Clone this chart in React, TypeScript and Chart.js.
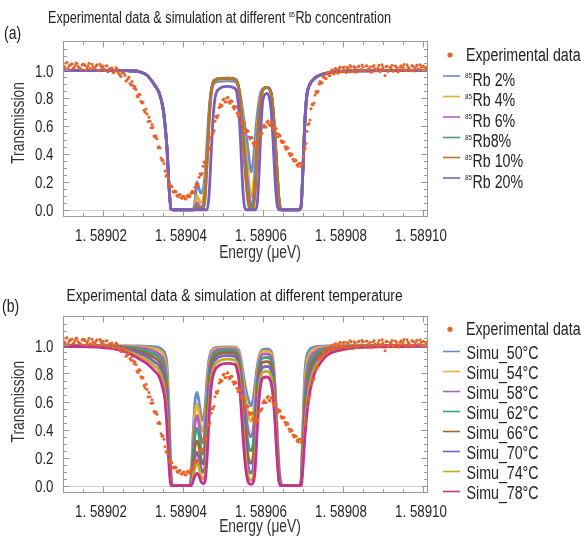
import { useEffect, useRef } from "react";
import { Chart, registerables } from "chart.js";

Chart.register(...registerables);

const FONT = '"Liberation Sans", Arial, Helvetica, sans-serif';

// ---------- Experimental data (energy, transmission) ----------
const EXP_ENERGY = [
  1.58901, 1.58901025, 1.5890105, 1.58901075, 1.589011, 1.58901125, 1.5890115, 1.58901175, 1.589012, 1.58901225,
  1.5890125, 1.58901275, 1.589013, 1.58901325, 1.5890135, 1.58901375, 1.589014, 1.58901425, 1.5890145, 1.58901475,
  1.589015, 1.58901525, 1.5890155, 1.58901575, 1.589016, 1.58901625, 1.5890165, 1.58901675, 1.589017, 1.58901725,
  1.5890175, 1.58901775, 1.589018, 1.58901825, 1.5890185, 1.58901875, 1.589019, 1.58901925, 1.5890195, 1.58901975,
  1.58902, 1.58902025, 1.5890205, 1.58902075, 1.589021, 1.58902125, 1.5890215, 1.58902175, 1.589022, 1.58902225,
  1.5890225, 1.58902275, 1.589023, 1.58902325, 1.5890235, 1.58902375, 1.589024, 1.58902425, 1.5890245, 1.58902475,
  1.589025, 1.58902525, 1.5890255, 1.58902575, 1.589026, 1.58902625, 1.5890265, 1.58902675, 1.589027, 1.58902725,
  1.5890275, 1.58902775, 1.589028, 1.58902825, 1.5890285, 1.58902875, 1.589029, 1.58902925, 1.5890295, 1.58902975,
  1.58903, 1.58903025, 1.5890305, 1.58903075, 1.589031, 1.58903125, 1.5890315, 1.58903175, 1.589032, 1.58903225,
  1.5890325, 1.58903275, 1.589033, 1.58903325, 1.5890335, 1.58903375, 1.589034, 1.58903425, 1.5890345, 1.58903475,
  1.589035, 1.58903525, 1.5890355, 1.58903575, 1.589036, 1.58903625, 1.5890365, 1.58903675, 1.589037, 1.58903725,
  1.5890375, 1.58903775, 1.589038, 1.58903825, 1.5890385, 1.58903875, 1.589039, 1.58903925, 1.5890395, 1.58903975,
  1.58904, 1.58904025, 1.5890405, 1.58904075, 1.589041, 1.58904125, 1.5890415, 1.58904175, 1.589042, 1.58904225,
  1.5890425, 1.58904275, 1.589043, 1.58904325, 1.5890435, 1.58904375, 1.589044, 1.58904425, 1.5890445, 1.58904475,
  1.589045, 1.58904525, 1.5890455, 1.58904575, 1.589046, 1.58904625, 1.5890465, 1.58904675, 1.589047, 1.58904725,
  1.5890475, 1.58904775, 1.589048, 1.58904825, 1.5890485, 1.58904875, 1.589049, 1.58904925, 1.5890495, 1.58904975,
  1.58905, 1.58905025, 1.5890505, 1.58905075, 1.589051, 1.58905125, 1.5890515, 1.58905175, 1.589052, 1.58905225,
  1.5890525, 1.58905275, 1.589053, 1.58905325, 1.5890535, 1.58905375, 1.589054, 1.58905425, 1.5890545, 1.58905475,
  1.589055, 1.58905525, 1.5890555, 1.58905575, 1.589056, 1.58905625, 1.5890565, 1.58905675, 1.589057, 1.58905725,
  1.5890575, 1.58905775, 1.589058, 1.58905825, 1.5890585, 1.58905875, 1.589059, 1.58905925, 1.5890595, 1.58905975,
  1.58906, 1.58906025, 1.5890605, 1.58906075, 1.589061, 1.58906125, 1.5890615, 1.58906175, 1.589062, 1.58906225,
  1.5890625, 1.58906275, 1.589063, 1.58906325, 1.5890635, 1.58906375, 1.589064, 1.58906425, 1.5890645, 1.58906475,
  1.589065, 1.58906525, 1.5890655, 1.58906575, 1.589066, 1.58906625, 1.5890665, 1.58906675, 1.589067, 1.58906725,
  1.5890675, 1.58906775, 1.589068, 1.58906825, 1.5890685, 1.58906875, 1.589069, 1.58906925, 1.5890695, 1.58906975,
  1.58907, 1.58907025, 1.5890705, 1.58907075, 1.589071, 1.58907125, 1.5890715, 1.58907175, 1.589072, 1.58907225,
  1.5890725, 1.58907275, 1.589073, 1.58907325, 1.5890735, 1.58907375, 1.589074, 1.58907425, 1.5890745, 1.58907475,
  1.589075, 1.58907525, 1.5890755, 1.58907575, 1.589076, 1.58907625, 1.5890765, 1.58907675, 1.589077, 1.58907725,
  1.5890775, 1.58907775, 1.589078, 1.58907825, 1.5890785, 1.58907875, 1.589079, 1.58907925, 1.5890795, 1.58907975,
  1.58908, 1.58908025, 1.5890805, 1.58908075, 1.589081, 1.58908125, 1.5890815, 1.58908175, 1.589082, 1.58908225,
  1.5890825, 1.58908275, 1.589083, 1.58908325, 1.5890835, 1.58908375, 1.589084, 1.58908425, 1.5890845, 1.58908475,
  1.589085, 1.58908525, 1.5890855, 1.58908575, 1.589086, 1.58908625, 1.5890865, 1.58908675, 1.589087, 1.58908725,
  1.5890875, 1.58908775, 1.589088, 1.58908825, 1.5890885, 1.58908875, 1.589089, 1.58908925, 1.5890895, 1.58908975,
  1.58909, 1.58909025, 1.5890905, 1.58909075, 1.589091, 1.58909125, 1.5890915, 1.58909175, 1.589092, 1.58909225,
  1.5890925, 1.58909275, 1.589093, 1.58909325, 1.5890935, 1.58909375, 1.589094, 1.58909425, 1.5890945, 1.58909475,
  1.589095, 1.58909525, 1.5890955, 1.58909575, 1.589096, 1.58909625, 1.5890965, 1.58909675, 1.589097, 1.58909725,
  1.5890975, 1.58909775, 1.589098, 1.58909825, 1.5890985, 1.58909875, 1.589099, 1.58909925, 1.5890995, 1.58909975,
  1.5891, 1.58910025, 1.5891005, 1.58910075, 1.589101,
];
const EXP_TRANSMISSION = [
  1.047, 1.027, 1.02, 1.053, 1.055, 1.013, 1.03, 1.038, 1.041, 1.046,
  1.014, 1.018, 1.035, 1.053, 1.048, 1.027, 1.019, 1.013, 1.008, 1.038,
  1.043, 1.044, 1.034, 1.002, 1.018, 1.033, 1.051, 1.013, 1.009, 1.044,
  1.025, 1.017, 1.016, 1.032, 1.04, 1.001, 0.996, 1.043, 1.028, 1.016,
  1.03, 1.007, 0.999, 1.031, 1.033, 0.99, 1.006, 1.012, 1.014, 1.017,
  0.983, 0.986, 1.001, 1.018, 1.01, 0.987, 0.975, 0.965, 0.956, 0.983,
  0.984, 0.979, 0.963, 0.923, 0.931, 0.939, 0.95, 0.905, 0.894, 0.92,
  0.891, 0.871, 0.884, 0.863, 0.816, 0.808, 0.829, 0.824, 0.777, 0.766,
  0.771, 0.714, 0.699, 0.723, 0.686, 0.632, 0.664, 0.635, 0.587, 0.612,
  0.59, 0.529, 0.52, 0.528, 0.509, 0.445, 0.452, 0.442, 0.371, 0.353,
  0.356, 0.331, 0.278, 0.241, 0.25, 0.228, 0.185, 0.168, 0.172, 0.164,
  0.131, 0.125, 0.134, 0.129, 0.102, 0.094, 0.108, 0.109, 0.085, 0.083,
  0.094, 0.097, 0.079, 0.077, 0.097, 0.105, 0.091, 0.096, 0.118, 0.133,
  0.12, 0.129, 0.161, 0.181, 0.171, 0.184, 0.232, 0.258, 0.249, 0.26,
  0.311, 0.342, 0.336, 0.345, 0.404, 0.435, 0.431, 0.447, 0.517, 0.55,
  0.548, 0.566, 0.634, 0.668, 0.66, 0.676, 0.733, 0.755, 0.741, 0.748,
  0.789, 0.794, 0.772, 0.772, 0.803, 0.805, 0.774, 0.763, 0.781, 0.778,
  0.739, 0.723, 0.742, 0.734, 0.694, 0.672, 0.691, 0.683, 0.637, 0.621,
  0.633, 0.621, 0.581, 0.556, 0.571, 0.563, 0.522, 0.508, 0.519, 0.516,
  0.479, 0.463, 0.482, 0.482, 0.458, 0.47, 0.518, 0.541, 0.536, 0.549,
  0.592, 0.607, 0.594, 0.593, 0.628, 0.636, 0.611, 0.604, 0.627, 0.624,
  0.589, 0.574, 0.591, 0.58, 0.546, 0.524, 0.542, 0.531, 0.494, 0.48,
  0.489, 0.486, 0.452, 0.433, 0.449, 0.44, 0.404, 0.387, 0.401, 0.394,
  0.362, 0.347, 0.358, 0.353, 0.323, 0.312, 0.331, 0.331, 0.309, 0.333,
  0.378, 0.428, 0.441, 0.475, 0.562, 0.612, 0.618, 0.644, 0.724, 0.757,
  0.752, 0.765, 0.823, 0.848, 0.839, 0.85, 0.901, 0.919, 0.905, 0.91,
  0.952, 0.963, 0.944, 0.94, 0.978, 0.983, 0.962, 0.96, 0.993, 1.004,
  0.979, 0.974, 1.012, 1.011, 0.988, 0.978, 1.011, 1.023, 0.99, 0.989,
  1.018, 1.023, 0.994, 0.984, 1.021, 1.015, 0.987, 1.034, 1.026, 0.989,
  1.002, 1.027, 1.019, 0.985, 0.991, 1.024, 1.03, 0.999, 1.005, 1.037,
  1.024, 0.996, 0.994, 1.03, 1.032, 1.005, 1.009, 1.023, 0.985, 0.989,
  1.027, 1.034, 1.011, 0.998, 0.998, 1.018, 1.036, 0.99, 1.006, 1.04,
  1.02, 1.002, 0.962, 1.027, 1.029, 0.992, 1.001, 1.021, 1.015, 1.036,
  0.993, 0.997, 1.031, 1.029, 1.012, 0.987, 0.997, 1.022, 1.033, 1.006,
  1.022, 1.042, 1.004, 0.996, 1.04, 1.022, 1.016, 1.002, 0.999, 1.035,
  1.028, 0.994, 1.011, 1.028, 1.037, 1.007, 1.004, 1.04, 1.021, 1.0,
  1.03, 1.026, 0.998, 1.012, 1.024,
];

// ---------- Simulation energy grid ----------
const SIM_ENERGY = [
  1.58901, 1.589022, 1.589026, 1.589029, 1.589031, 1.589033, 1.589034, 1.589035, 1.5890355, 1.589036,
  1.5890365, 1.589037, 1.5890375, 1.58904, 1.589041, 1.5890415, 1.589042, 1.5890425, 1.589043, 1.5890435,
  1.589044, 1.5890445, 1.589045, 1.5890455, 1.589046, 1.5890465, 1.589047, 1.5890475, 1.589048, 1.589049,
  1.589051, 1.589053, 1.5890535, 1.589054, 1.5890545, 1.589055, 1.5890555, 1.589056, 1.5890565, 1.589057,
  1.5890575, 1.589058, 1.5890585, 1.589059, 1.5890595, 1.58906, 1.589061, 1.589062, 1.5890625, 1.589063,
  1.5890635, 1.589064, 1.5890645, 1.589065, 1.589067, 1.589069, 1.5890695, 1.58907, 1.5890705, 1.589071,
  1.5890715, 1.589072, 1.589073, 1.589074, 1.589076, 1.589079, 1.589083, 1.58909, 1.589101,
];

// ---------- (a) 85Rb concentration simulations ----------
const SIM_RB_2 = [
  0.998, 0.998, 0.997, 0.99, 0.964, 0.89, 0.84, 0.73, 0.61, 0.44,
  0.17, 0.005, 0, 0, 0, 0, 0, 0, 0.06, 0.2,
  0.15, 0.12, 0.14, 0.25, 0.47, 0.7, 0.84, 0.895, 0.912, 0.92,
  0.925, 0.92, 0.905, 0.865, 0.79, 0.69, 0.59, 0.49, 0.37, 0.27,
  0.33, 0.5, 0.66, 0.78, 0.845, 0.865, 0.875, 0.84, 0.72, 0.52,
  0.28, 0.07, 0, 0, 0, 0, 0.02, 0.3, 0.65, 0.83,
  0.885, 0.915, 0.945, 0.963, 0.98, 0.992, 0.996, 0.998, 0.998,
];
const SIM_RB_4 = [
  0.998, 0.998, 0.997, 0.99, 0.964, 0.89, 0.84, 0.73, 0.61, 0.44,
  0.17, 0.005, 0, 0, 0, 0, 0, 0, 0.03, 0.1,
  0.07, 0.05, 0.07, 0.18, 0.42, 0.68, 0.84, 0.905, 0.925, 0.933,
  0.937, 0.932, 0.918, 0.87, 0.76, 0.62, 0.48, 0.34, 0.19, 0.09,
  0.14, 0.32, 0.55, 0.73, 0.83, 0.865, 0.876, 0.84, 0.72, 0.52,
  0.28, 0.07, 0, 0, 0, 0, 0.02, 0.3, 0.65, 0.83,
  0.885, 0.915, 0.945, 0.963, 0.98, 0.992, 0.996, 0.998, 0.998,
];
const SIM_RB_6 = [
  0.998, 0.998, 0.997, 0.99, 0.964, 0.89, 0.84, 0.73, 0.61, 0.44,
  0.17, 0.005, 0, 0, 0, 0, 0, 0, 0.02, 0.05,
  0.03, 0.02, 0.03, 0.13, 0.38, 0.66, 0.84, 0.912, 0.93, 0.938,
  0.941, 0.935, 0.92, 0.865, 0.73, 0.57, 0.4, 0.24, 0.1, 0.03,
  0.06, 0.22, 0.48, 0.7, 0.82, 0.865, 0.877, 0.84, 0.72, 0.52,
  0.28, 0.07, 0, 0, 0, 0, 0.02, 0.3, 0.65, 0.83,
  0.885, 0.915, 0.945, 0.963, 0.98, 0.992, 0.996, 0.998, 0.998,
];
const SIM_RB_8 = [
  0.998, 0.998, 0.997, 0.99, 0.964, 0.89, 0.84, 0.73, 0.61, 0.44,
  0.17, 0.005, 0, 0, 0, 0, 0, 0, 0.01, 0.03,
  0.015, 0.005, 0.01, 0.1, 0.35, 0.64, 0.83, 0.912, 0.93, 0.94,
  0.943, 0.936, 0.92, 0.862, 0.72, 0.53, 0.34, 0.17, 0.05, 0.01,
  0.03, 0.16, 0.43, 0.67, 0.8, 0.862, 0.878, 0.84, 0.72, 0.52,
  0.28, 0.07, 0, 0, 0, 0, 0.02, 0.3, 0.65, 0.83,
  0.885, 0.915, 0.945, 0.963, 0.98, 0.992, 0.996, 0.998, 0.998,
];
const SIM_RB_10 = [
  0.998, 0.998, 0.997, 0.99, 0.964, 0.89, 0.84, 0.73, 0.61, 0.44,
  0.17, 0.005, 0, 0, 0, 0, 0, 0, 0.005, 0.02,
  0.01, 0, 0.005, 0.08, 0.32, 0.62, 0.82, 0.91, 0.93, 0.94,
  0.944, 0.937, 0.92, 0.86, 0.71, 0.5, 0.29, 0.12, 0.02, 0,
  0.01, 0.11, 0.38, 0.64, 0.79, 0.86, 0.878, 0.84, 0.72, 0.52,
  0.28, 0.07, 0, 0, 0, 0, 0.02, 0.3, 0.65, 0.83,
  0.885, 0.915, 0.945, 0.963, 0.98, 0.992, 0.996, 0.998, 0.998,
];
const SIM_RB_20 = [
  0.998, 0.998, 0.997, 0.99, 0.964, 0.89, 0.84, 0.73, 0.61, 0.44,
  0.17, 0.005, 0, 0, 0, 0, 0, 0, 0, 0,
  0, 0, 0, 0, 0, 0.1, 0.38, 0.65, 0.8, 0.865,
  0.885, 0.87, 0.83, 0.7, 0.42, 0.13, 0.01, 0, 0, 0,
  0, 0, 0.03, 0.25, 0.6, 0.79, 0.835, 0.72, 0.5, 0.22,
  0.04, 0, 0, 0, 0, 0, 0.02, 0.3, 0.65, 0.83,
  0.885, 0.915, 0.945, 0.963, 0.98, 0.992, 0.996, 0.998, 0.998,
];

// ---------- (b) temperature simulations ----------
const SIM_T_50 = [
  0.998, 0.998, 0.997, 0.996, 0.994, 0.99, 0.985, 0.965, 0.94, 0.86,
  0.55, 0.1, 0, 0, 0, 0, 0.05, 0.35, 0.6, 0.665,
  0.6, 0.5, 0.465, 0.56, 0.76, 0.9, 0.955, 0.975, 0.983, 0.988,
  0.99, 0.988, 0.98, 0.96, 0.9, 0.81, 0.72, 0.65, 0.6, 0.57,
  0.61, 0.72, 0.84, 0.92, 0.96, 0.972, 0.975, 0.96, 0.9, 0.72,
  0.42, 0.14, 0.02, 0, 0, 0, 0.03, 0.45, 0.82, 0.93,
  0.965, 0.98, 0.99, 0.994, 0.997, 0.998, 0.998, 0.998, 0.998,
];
const SIM_T_54 = [
  0.998, 0.997, 0.995, 0.99, 0.985, 0.975, 0.965, 0.94, 0.9, 0.8,
  0.48, 0.08, 0, 0, 0, 0, 0.04, 0.3, 0.52, 0.58,
  0.52, 0.42, 0.385, 0.48, 0.7, 0.86, 0.935, 0.962, 0.975, 0.982,
  0.985, 0.983, 0.972, 0.945, 0.87, 0.76, 0.65, 0.55, 0.48, 0.46,
  0.5, 0.63, 0.79, 0.9, 0.945, 0.958, 0.96, 0.945, 0.88, 0.69,
  0.39, 0.12, 0.015, 0, 0, 0, 0.025, 0.4, 0.75, 0.88,
  0.93, 0.955, 0.975, 0.985, 0.992, 0.996, 0.998, 0.998, 0.998,
];
const SIM_T_58 = [
  0.998, 0.996, 0.99, 0.983, 0.975, 0.955, 0.94, 0.905, 0.86, 0.73,
  0.42, 0.06, 0, 0, 0, 0, 0.03, 0.25, 0.44, 0.5,
  0.44, 0.34, 0.305, 0.4, 0.63, 0.82, 0.91, 0.945, 0.96, 0.972,
  0.976, 0.972, 0.96, 0.925, 0.83, 0.7, 0.57, 0.45, 0.37, 0.35,
  0.39, 0.54, 0.74, 0.87, 0.925, 0.937, 0.94, 0.92, 0.85, 0.66,
  0.36, 0.1, 0.01, 0, 0, 0, 0.02, 0.35, 0.68, 0.82,
  0.89, 0.925, 0.955, 0.97, 0.985, 0.992, 0.996, 0.998, 0.998,
];
const SIM_T_62 = [
  0.997, 0.995, 0.985, 0.973, 0.96, 0.935, 0.915, 0.87, 0.81, 0.66,
  0.36, 0.04, 0, 0, 0, 0, 0.02, 0.2, 0.36, 0.41,
  0.36, 0.26, 0.225, 0.31, 0.55, 0.77, 0.88, 0.925, 0.943, 0.958,
  0.964, 0.96, 0.945, 0.9, 0.79, 0.64, 0.49, 0.36, 0.27, 0.25,
  0.29, 0.45, 0.68, 0.83, 0.895, 0.91, 0.915, 0.895, 0.82, 0.62,
  0.33, 0.085, 0.005, 0, 0, 0, 0.015, 0.3, 0.6, 0.76,
  0.84, 0.89, 0.93, 0.955, 0.975, 0.987, 0.994, 0.997, 0.998,
];
const SIM_T_66 = [
  0.997, 0.993, 0.978, 0.96, 0.94, 0.91, 0.885, 0.83, 0.76, 0.6,
  0.3, 0.03, 0, 0, 0, 0, 0.015, 0.15, 0.28, 0.32,
  0.28, 0.19, 0.155, 0.22, 0.46, 0.71, 0.845, 0.9, 0.922, 0.94,
  0.948, 0.943, 0.925, 0.87, 0.74, 0.57, 0.41, 0.27, 0.18, 0.16,
  0.2, 0.36, 0.61, 0.79, 0.86, 0.88, 0.885, 0.86, 0.78, 0.58,
  0.3, 0.07, 0, 0, 0, 0, 0.01, 0.26, 0.54, 0.7,
  0.79, 0.85, 0.905, 0.935, 0.965, 0.982, 0.991, 0.996, 0.997,
];
const SIM_T_70 = [
  0.996, 0.99, 0.97, 0.945, 0.92, 0.88, 0.855, 0.79, 0.71, 0.54,
  0.25, 0.02, 0, 0, 0, 0, 0.01, 0.1, 0.2, 0.24,
  0.2, 0.125, 0.095, 0.14, 0.37, 0.64, 0.8, 0.87, 0.896, 0.918,
  0.928, 0.922, 0.9, 0.835, 0.69, 0.5, 0.33, 0.19, 0.11, 0.09,
  0.12, 0.27, 0.53, 0.74, 0.82, 0.845, 0.85, 0.82, 0.74, 0.54,
  0.27, 0.055, 0, 0, 0, 0, 0.005, 0.22, 0.48, 0.64,
  0.74, 0.8, 0.875, 0.91, 0.95, 0.975, 0.987, 0.994, 0.997,
];
const SIM_T_74 = [
  0.996, 0.985, 0.96, 0.925, 0.895, 0.85, 0.82, 0.74, 0.66, 0.48,
  0.2, 0.01, 0, 0, 0, 0, 0.005, 0.06, 0.13, 0.16,
  0.13, 0.07, 0.05, 0.08, 0.28, 0.56, 0.75, 0.83, 0.864, 0.89,
  0.902, 0.895, 0.87, 0.8, 0.63, 0.43, 0.25, 0.12, 0.05, 0.04,
  0.06, 0.18, 0.45, 0.68, 0.78, 0.81, 0.815, 0.78, 0.69, 0.5,
  0.24, 0.04, 0, 0, 0, 0, 0, 0.18, 0.42, 0.58,
  0.69, 0.76, 0.845, 0.885, 0.935, 0.965, 0.982, 0.992, 0.996,
];
const SIM_T_78 = [
  0.995, 0.98, 0.95, 0.905, 0.87, 0.815, 0.78, 0.69, 0.61, 0.42,
  0.15, 0, 0, 0, 0, 0, 0, 0.03, 0.07, 0.09,
  0.07, 0.03, 0.015, 0.03, 0.19, 0.47, 0.69, 0.785, 0.825, 0.857,
  0.872, 0.864, 0.83, 0.75, 0.57, 0.35, 0.17, 0.06, 0.015, 0.01,
  0.02, 0.1, 0.36, 0.61, 0.73, 0.77, 0.775, 0.735, 0.64, 0.45,
  0.2, 0.03, 0, 0, 0, 0, 0, 0.14, 0.36, 0.52,
  0.63, 0.71, 0.81, 0.86, 0.93, 0.965, 0.985, 0.99, 0.995,
];

// ---------- Axes ----------
const X_MIN = 1.58901;
const X_MAX = 1.589101;
const Y_MIN = -0.045;
const Y_MAX = 1.21;
const X_TICKS = [1.58902, 1.58904, 1.58906, 1.58908, 1.5891];
const X_TICK_LABELS = ["1. 58902", "1. 58904", "1. 58906", "1. 58908", "1. 58910"];
const X_MINOR_STEP = 0.000005;
const Y_TICKS = [0, 0.2, 0.4, 0.6, 0.8, 1.0];
const Y_TICK_LABELS = ["0.0", "0.2", "0.4", "0.6", "0.8", "1.0"];
const Y_MINOR_STEP = 0.05;

const EXP_LABEL = "Experimental data";
const EXP_COLOR = "#e8622a";

const CONC_LABELS = ["Rb 2%", "Rb 4%", "Rb 6%", "Rb8%", "Rb 10%", "Rb 20%"];
const CONC_SERIES = [SIM_RB_2, SIM_RB_4, SIM_RB_6, SIM_RB_8, SIM_RB_10, SIM_RB_20];
const CONC_COLORS = ["#6b8cc6", "#e8b22e", "#b35fc4", "#3f9f80", "#b8742e", "#7b5ec0"];

const TEMP_LABELS = ["Simu_50°C", "Simu_54°C", "Simu_58°C", "Simu_62°C", "Simu_66°C", "Simu_70°C", "Simu_74°C", "Simu_78°C"];
const TEMP_SERIES = [SIM_T_50, SIM_T_54, SIM_T_58, SIM_T_62, SIM_T_66, SIM_T_70, SIM_T_74, SIM_T_78];
const TEMP_COLORS = ["#6b8cc6", "#e8b22e", "#b35fc4", "#3f9f80", "#9a6a32", "#7466c8", "#c4ac22", "#c8308e"];

type Part = { text: string; sup?: boolean };

type PanelSpec = {
  top: number;
  height: number;
  areaTop: number;
  areaBottom: number;
  tag: string;
  tagX: number;
  tagBaseline: number;
  title: Part[];
  titleX: number;
  titleBaseline: number;
  titleSize: number;
  yTitleY: number;
  xTitleBaseline: number;
  expDotY: number;
  expBaseline: number;
  rowY: number[];
  rowBaselineOff: number;
  textX: number;
  labels: Part[][];
  colors: string[];
  series: number[][];
};

const W = 581;
const AREA_LEFT = 63;
const AREA_RIGHT = 427;

function drawText(ctx: CanvasRenderingContext2D, text: string, x: number, y: number, size: number, align: "left" | "center" | "right" = "left", sx = 0.8): number {
  ctx.save();
  ctx.font = `${size}px ${FONT}`;
  ctx.textAlign = "left";
  const w = ctx.measureText(text).width * sx;
  const x0 = align === "center" ? x - w / 2 : align === "right" ? x - w : x;
  ctx.translate(x0, y);
  ctx.scale(sx, 1);
  ctx.fillText(text, 0, 0);
  ctx.restore();
  return w;
}

function drawRich(ctx: CanvasRenderingContext2D, x: number, baseline: number, parts: Part[], size: number, supSize: number, rise: number, sx: number) {
  let cx = x;
  for (const p of parts) {
    if (p.sup) {
      cx += drawText(ctx, p.text, cx, baseline - rise, supSize, "left", sx) + 0.5;
    } else {
      cx += drawText(ctx, p.text, cx, baseline, size, "left", sx);
    }
  }
}

function makeDecor(p: PanelSpec) {
  return {
    id: "decor",
    beforeDatasetsDraw(chart: any) {
      const { ctx, chartArea: a, scales } = chart;
      const y0 = Math.round(scales.y.getPixelForValue(0)) + 0.5;
      ctx.save();
      ctx.strokeStyle = "#d2d2d2";
      ctx.lineWidth = 1;
      ctx.beginPath();
      ctx.moveTo(a.left, y0);
      ctx.lineTo(a.right, y0);
      ctx.stroke();
      ctx.restore();
    },
    afterDraw(chart: any) {
      const { ctx, chartArea: a, scales } = chart;
      const xs = scales.x;
      const ys = scales.y;
      ctx.save();
      ctx.strokeStyle = "#9a9a9a";
      ctx.lineWidth = 1;
      ctx.strokeRect(Math.round(a.left) + 0.5, Math.round(a.top) + 0.5, Math.round(a.right - a.left), Math.round(a.bottom - a.top));
      const seg = (x1: number, y1: number, x2: number, y2: number) => {
        ctx.beginPath();
        ctx.moveTo(x1, y1);
        ctx.lineTo(x2, y2);
        ctx.stroke();
      };
      const L = Math.round(a.left) + 0.5, R = Math.round(a.right) + 0.5, T = Math.round(a.top) + 0.5, B = Math.round(a.bottom) + 0.5;
      for (let k = 0; k <= 20; k++) {
        const v = X_MIN + k * X_MINOR_STEP;
        if (v > X_MAX) break;
        const px = Math.round(xs.getPixelForValue(v)) + 0.5;
        if (px < L + 2 || px > R - 2) continue;
        const major = X_TICKS.some((t) => Math.abs(t - v) < 1e-9);
        const len = major ? 6 : 3.5;
        seg(px, B, px, B - len);
        seg(px, T, px, T + len);
      }
      for (let k = -1; k <= 25; k++) {
        const v = k * Y_MINOR_STEP;
        if (v < Y_MIN || v > Y_MAX) continue;
        const py = Math.round(ys.getPixelForValue(v)) + 0.5;
        if (py < T + 2 || py > B - 2) continue;
        const major = Y_TICKS.some((t) => Math.abs(t - v) < 1e-9);
        const len = major ? 6 : 3.5;
        seg(L, py, L + len, py);
        seg(R, py, R - len, py);
      }
      // tick labels
      ctx.fillStyle = "#262626";
      X_TICKS.forEach((v, i) => {
        drawText(ctx, X_TICK_LABELS[i], xs.getPixelForValue(v) - 2, a.bottom + 24.5, 17.3, "center", 0.77);
      });
      Y_TICKS.forEach((v, i) => {
        drawText(ctx, Y_TICK_LABELS[i], 53.5, ys.getPixelForValue(v) + 6.3, 17.3, "right", 0.77);
      });
      // tag & title
      ctx.fillStyle = "#222";
      drawText(ctx, p.tag, p.tagX, p.tagBaseline, 17.5, "left", 0.8);
      drawRich(ctx, p.titleX, p.titleBaseline, p.title, p.titleSize, 7, 6, 0.8);
      // axis titles
      ctx.fillStyle = "#333";
      drawText(ctx, "Energy (μeV)", 260, p.xTitleBaseline, 17.5, "center", 0.79);
      ctx.save();
      ctx.translate(23.5, p.yTitleY);
      ctx.rotate(-Math.PI / 2);
      drawText(ctx, "Transmission", 0, 0, 17.5, "center", 0.79);
      ctx.restore();
      // legend
      ctx.fillStyle = EXP_COLOR;
      ctx.beginPath();
      ctx.arc(450, p.expDotY, 2.6, 0, Math.PI * 2);
      ctx.fill();
      ctx.fillStyle = "#222";
      drawText(ctx, EXP_LABEL, 466, p.expBaseline, 18, "left", 0.79);
      p.labels.forEach((parts, i) => {
        const y = p.rowY[i];
        ctx.strokeStyle = p.colors[i];
        ctx.lineWidth = 1.6;
        seg(443, y, 460, y);
        ctx.fillStyle = "#222";
        drawRich(ctx, p.textX, y + p.rowBaselineOff, parts, 18, 8, 7.5, 0.79);
      });
      ctx.restore();
    },
  };
}

function pts(xs: number[], ys: number[]) {
  return xs.map((x, i) => ({ x, y: ys[i] }));
}

function buildConfig(p: PanelSpec): any {
  const datasets: any[] = [
    {
      label: EXP_LABEL,
      data: pts(EXP_ENERGY, EXP_TRANSMISSION),
      showLine: false,
      pointRadius: 1.5,
      pointHoverRadius: 0,
      pointBackgroundColor: EXP_COLOR,
      pointBorderWidth: 0,
      order: 0,
    },
  ];
  p.series.forEach((s, i) => {
    datasets.push({
      label: p.labels[i].map((q) => q.text).join(""),
      data: pts(SIM_ENERGY, s),
      showLine: true,
      pointRadius: 0,
      pointHoverRadius: 0,
      borderColor: p.colors[i],
      borderWidth: 2.8,
      cubicInterpolationMode: "monotone",
      fill: false,
      order: 30 - i,
    });
  });
  return {
    type: "scatter",
    data: { datasets },
    options: {
      responsive: false,
      animation: false,
      events: [],
      layout: { padding: { left: 0, right: W - AREA_RIGHT, top: p.areaTop, bottom: 0 } },
      plugins: { legend: { display: false }, tooltip: { enabled: false }, title: { display: false } },
      scales: {
        x: {
          type: "linear",
          min: X_MIN,
          max: X_MAX,
          grid: { display: false },
          border: { display: false },
          afterBuildTicks: (s: any) => {
            s.ticks = X_TICKS.map((v) => ({ value: v }));
          },
          afterFit: (s: any) => {
            s.height = p.height - p.areaBottom;
          },
          ticks: { display: false },
        },
        y: {
          type: "linear",
          min: Y_MIN,
          max: Y_MAX,
          grid: { display: false },
          border: { display: false },
          afterBuildTicks: (s: any) => {
            s.ticks = Y_TICKS.map((v) => ({ value: v }));
          },
          afterFit: (s: any) => {
            s.width = AREA_LEFT;
          },
          ticks: { display: false },
        },
      },
    },
    plugins: [makeDecor(p)],
  };
}

const PANEL_A: PanelSpec = {
  top: 0,
  height: 270,
  areaTop: 41,
  areaBottom: 216,
  tag: "(a)",
  tagX: 4,
  tagBaseline: 39,
  title: [{ text: "Experimental data & simulation at different " }, { text: "85", sup: true }, { text: "Rb concentration" }],
  titleX: 48,
  titleBaseline: 23,
  titleSize: 15.8,
  yTitleY: 123,
  xTitleBaseline: 258,
  expDotY: 55,
  expBaseline: 61,
  rowY: [76, 96.5, 117, 137.5, 157.5, 178],
  rowBaselineOff: 9.5,
  textX: 465,
  labels: CONC_LABELS.map((t) => [{ text: "85", sup: true }, { text: t }]),
  colors: CONC_COLORS,
  series: CONC_SERIES,
};

const PANEL_B: PanelSpec = {
  top: 270,
  height: 271,
  areaTop: 46,
  areaBottom: 222,
  tag: "(b)",
  tagX: 2,
  tagBaseline: 42,
  title: [{ text: "Experimental data & simulation at different temperature" }],
  titleX: 66.5,
  titleBaseline: 30.5,
  titleSize: 17.2,
  yTitleY: 131.7,
  xTitleBaseline: 262,
  expDotY: 59.3,
  expBaseline: 65,
  rowY: [81.5, 101.5, 121.5, 141.5, 161.5, 181.5, 201.5, 221.5],
  rowBaselineOff: 7,
  textX: 466.5,
  labels: TEMP_LABELS.map((t) => [{ text: t }]),
  colors: TEMP_COLORS,
  series: TEMP_SERIES,
};

function Panel({ spec }: { spec: PanelSpec }) {
  const ref = useRef<HTMLCanvasElement>(null);
  useEffect(() => {
    if (!ref.current) return;
    const chart = new Chart(ref.current, buildConfig(spec));
    return () => chart.destroy();
  }, [spec]);
  return (
    <canvas
      ref={ref}
      width={W}
      height={spec.height}
      style={{ position: "absolute", left: 0, top: spec.top, width: W, height: spec.height }}
    />
  );
}

export default function App() {
  return (
    <div style={{ position: "absolute", left: 0, top: 0, width: W, height: 541, background: "#fff", overflow: "hidden" }}>
      <Panel spec={PANEL_A} />
      <Panel spec={PANEL_B} />
    </div>
  );
}
